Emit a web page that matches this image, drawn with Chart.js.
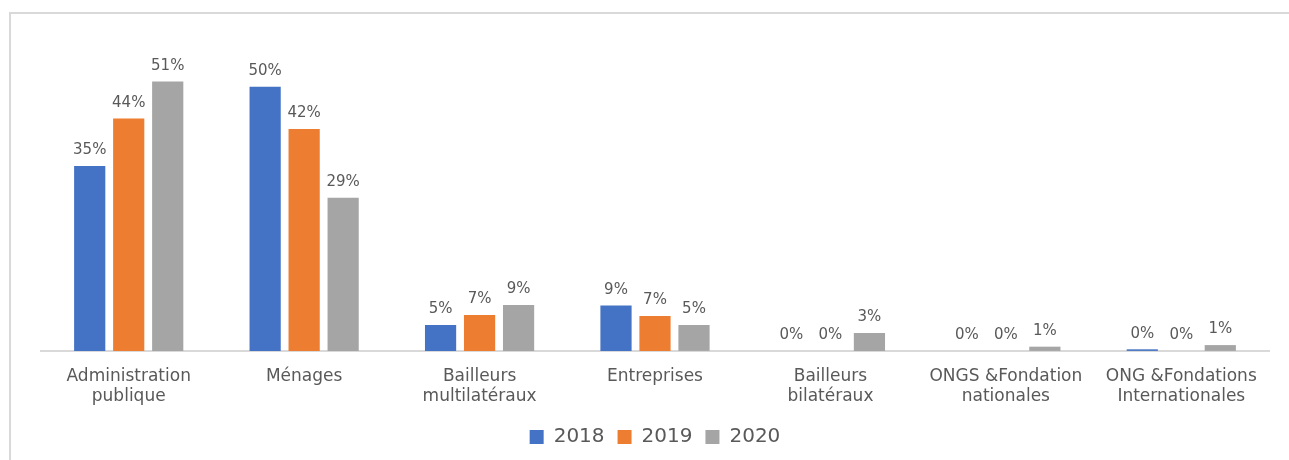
<!DOCTYPE html>
<html lang="fr">
<head>
<meta charset="UTF-8">
<title>Sources de financement 2018-2020</title>
<script src="https://cdn.jsdelivr.net/npm/chart.js"></script>
<style>
    html, body { margin: 0; background: #fff; overflow: hidden; }
    #frame {
        position: absolute; left: 9px; top: 12px; width: 1400px; height: 448px;
        border-left: 2px solid #d9d9d9; border-top: 2px solid #d9d9d9;
        box-sizing: border-box;
    }
    #wrap { position: absolute; left: 0; top: 0; width: 1289px; height: 460px; }
</style>
</head>
<body>
<div id="frame"></div>
<div id="wrap"><canvas id="chart"></canvas></div>
<script>
    const categories = [
        ['Administration', 'publique'],
        ['Ménages'],
        ['Bailleurs', 'multilatéraux'],
        ['Entreprises'],
        ['Bailleurs', 'bilatéraux'],
        ['ONGS &Fondation', 'nationales'],
        ['ONG &Fondations', 'Internationales']
    ];
    const series2018 = [35, 50, 4.9, 8.6, 0, 0, 0.3];
    const series2019 = [44, 42, 6.8, 6.6, 0, 0, 0];
    const series2020 = [51, 29, 8.7, 4.9, 3.4, 0.8, 1.1];
    const years = ['2018', '2019', '2020'];
    const colors = ['#4472C4', '#ED7D31', '#A5A5A5'];

    const FONT = 'DejaVu Sans';
    const TEXT = '#595959';

    // labels above bars, rounded like the source
    const valueLabels = {
        id: 'valueLabels',
        afterDatasetsDraw(chart) {
            const ctx = chart.ctx;
            ctx.save();
            ctx.font = '15px "' + FONT + '"';
            ctx.fillStyle = TEXT;
            ctx.textAlign = 'center';
            ctx.textBaseline = 'bottom';
            chart.data.datasets.forEach((ds, i) => {
                chart.getDatasetMeta(i).data.forEach((bar, j) => {
                    ctx.fillText(Math.round(ds.data[j]) + '%', bar.x, bar.y - 8);
                });
            });
            ctx.restore();
        }
    };

    new Chart(document.getElementById('chart'), {
        type: 'bar',
        data: {
            labels: categories,
            datasets: [series2018, series2019, series2020].map((d, i) => ({
                label: years[i],
                data: d,
                backgroundColor: colors[i],
                categoryPercentage: 0.667,
                barPercentage: 0.8
            }))
        },
        options: {
            responsive: true,
            maintainAspectRatio: false,
            animation: false,
            layout: { padding: { left: 41, right: 20, top: 34, bottom: 3 } },
            scales: {
                x: {
                    grid: { display: false },
                    border: { color: '#d9d9d9', width: 2 },
                    ticks: {
                        color: TEXT,
                        font: { family: FONT, size: 17, lineHeight: 1.15 },
                        padding: 8,
                        maxRotation: 0,
                        autoSkip: false
                    }
                },
                y: {
                    display: false,
                    min: 0,
                    max: 60
                }
            },
            plugins: {
                legend: {
                    position: 'bottom',
                    labels: {
                        color: TEXT,
                        font: { family: FONT, size: 20 },
                        boxWidth: 14,
                        boxHeight: 14,
                        padding: 13
                    }
                },
                tooltip: { enabled: false }
            }
        },
        plugins: [valueLabels]
    });
</script>
</body>
</html>
